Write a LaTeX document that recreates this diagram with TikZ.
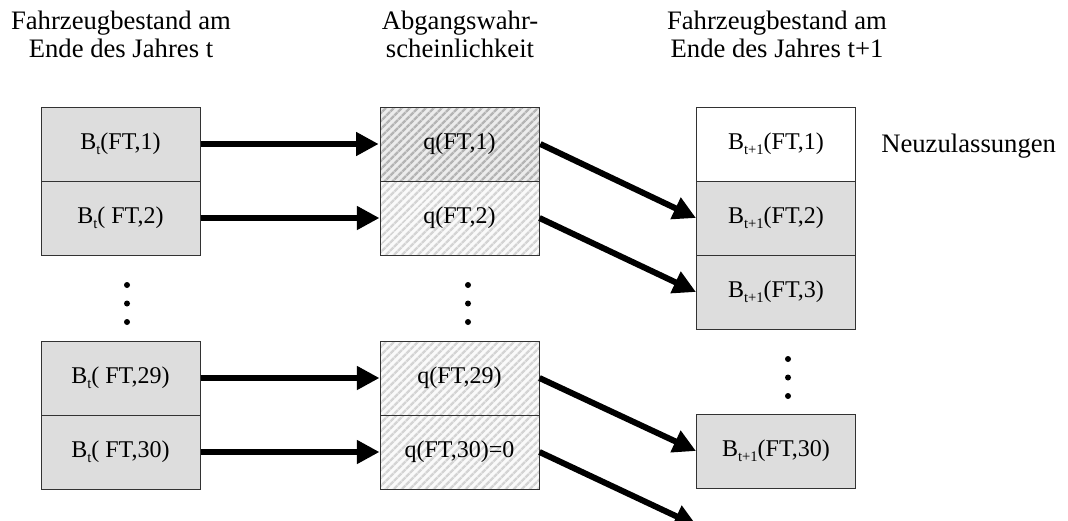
\documentclass[tikz,border=0pt]{standalone}
\usepackage{fontspec}
\setmainfont{Liberation Serif}
\usetikzlibrary{arrows.meta,patterns.meta}
\definecolor{boxgray}{RGB}{221,221,221}
\definecolor{edgegray}{RGB}{50,50,50}
\definecolor{hatchA}{RGB}{180,180,180}
\definecolor{hatchAbg}{RGB}{236,236,236}
\definecolor{hatchB}{RGB}{212,212,212}
\definecolor{hatchBbg}{RGB}{250,250,250}
\newcommand{\lowsub}[1]{\raisebox{-3.5pt}{\fontsize{11}{11}\selectfont #1}}
\tikzset{
  cell/.style={draw=edgegray, line width=0.75pt, minimum width=119.25pt, minimum height=55.5pt, inner sep=0pt, font=\fontsize{18}{21}\selectfont},
  grey/.style={cell, fill=boxgray},
  white/.style={cell, fill=white},
  hatchdark/.style={cell, preaction={fill=hatchAbg}, pattern={Lines[angle=45,distance=4pt,line width=2pt]}, pattern color=hatchA},
  hatchlight/.style={cell, preaction={fill=hatchBbg}, pattern={Lines[angle=45,distance=4pt,line width=2pt]}, pattern color=hatchB},
  arr/.style={line width=4.5pt, -{Triangle[length=17pt,width=17pt]}},
  head/.style={align=center, font=\fontsize{20}{21}\selectfont, inner sep=0pt},
  dotmark/.style={circle, fill=black, inner sep=0pt, minimum size=4.5pt},
}
\begin{document}
\begin{tikzpicture}[x=0.75pt, y=-0.75pt]
\useasboundingbox (0,0) rectangle (1068,521);
% headers
\node[head] (h1) at (121,34) {Fahrzeugbestand am\\Ende des Jahres t};
\node[head] (h2) at (460,34) {Abgangswahr-\\scheinlichkeit};
\node[head] (h3) at (777,34) {Fahrzeugbestand am\\Ende des Jahres t+1};
% left column
\node[grey] (L1) at (120.5,144) {B\lowsub{t}(FT,1)};
\node[grey] (L2) at (120.5,218) {B\lowsub{t}( FT,2)};
\node[grey] (L3) at (120.5,378) {B\lowsub{t}( FT,29)};
\node[grey] (L4) at (120.5,452) {B\lowsub{t}( FT,30)};
% middle column
\node[hatchdark] (M1) at (459.5,144) {q(FT,1)};
\node[hatchlight] (M2) at (459.5,218) {q(FT,2)};
\node[hatchlight] (M3) at (459.5,378) {q(FT,29)};
\node[hatchlight] (M4) at (459.5,452) {q(FT,30)=0};
% right column
\node[white] (R1) at (776,144) {B\lowsub{t+1}(FT,1)};
\node[grey] (R2) at (776,218) {B\lowsub{t+1}(FT,2)};
\node[grey] (R3) at (776,292) {B\lowsub{t+1}(FT,3)};
\node[grey] (R4) at (776,451) {B\lowsub{t+1}(FT,30)};
\node[font=\fontsize{20}{21}\selectfont, anchor=west, inner sep=0pt] (neu) at (881,146) {Neuzulassungen};
% dots
\node[dotmark] (dl1) at (127,285) {};
\node[dotmark] (dl2) at (127,303.5) {};
\node[dotmark] (dl3) at (127,322) {};
\node[dotmark] (dm1) at (468,285) {};
\node[dotmark] (dm2) at (468,303.5) {};
\node[dotmark] (dm3) at (468,322) {};
\node[dotmark] (dr1) at (788,359) {};
\node[dotmark] (dr2) at (788,377.5) {};
\node[dotmark] (dr3) at (788,396) {};
% arrows
\draw[arr] (L1.east) -- (M1.west);
\draw[arr] (L2.east) -- (M2.west);
\draw[arr] (L3.east) -- (M3.west);
\draw[arr] (L4.east) -- (M4.west);
\draw[arr] (M1.east) -- (R2.west);
\draw[arr] (M2.east) -- (R3.west);
\draw[arr] (M3.east) -- (R4.west);
\coordinate (out) at (697,526);
\draw[arr] (M4.east) -- (out);
\end{tikzpicture}
\end{document}
